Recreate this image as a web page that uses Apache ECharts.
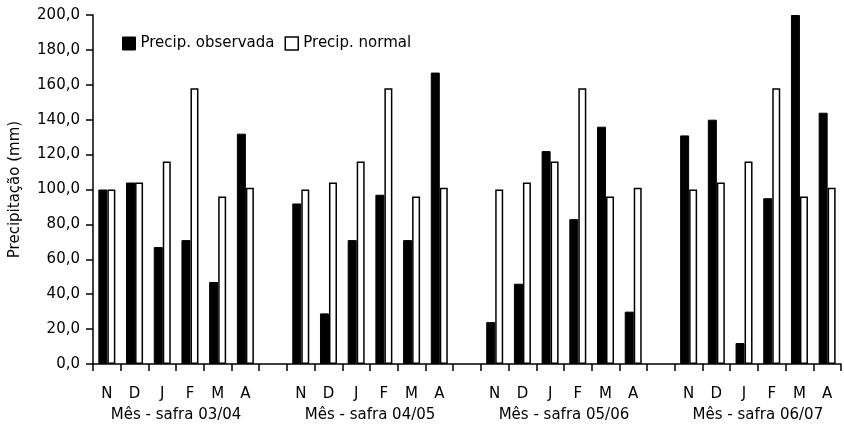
<!DOCTYPE html>
<html>
<head>
<meta charset="utf-8">
<script src="https://cdn.jsdelivr.net/npm/echarts@6/dist/echarts.min.js"></script>
<style>html,body{margin:0;padding:0;background:#fff;}#c{width:844px;height:425px;}</style>
</head>
<body>
<div id="c"></div>
<script>
const months = ['N','D','J','F','M','A'];
const groups = ['Mês - safra 03/04','Mês - safra 04/05','Mês - safra 05/06','Mês - safra 06/07'];
const observada0304 = [100, 104, 67, 71, 47, 132];
const observada0405 = [92, 29, 71, 97, 71, 167];
const observada0506 = [24, 46, 122, 83, 136, 30];
const observada0607 = [131, 140, 12, 95, 200, 144];
const normal = [100, 104, 116, 158, 96, 101];
const yTicks = [0, 20, 40, 60, 80, 100, 120, 140, 160, 180, 200];

const obsGroups = [observada0304, observada0405, observada0506, observada0607];
const categories = [];
const obsData = [];
const normData = [];
obsGroups.forEach((g, gi) => {
  if (gi > 0) { categories.push(' ' + gi); obsData.push(null); normData.push(null); }
  months.forEach((m, i) => {
    categories.push(m + '_' + gi);
    obsData.push(g[i]);
    normData.push(normal[i]);
  });
});
// group label centres on a 0..N value axis
const groupCenters = {};
groups.forEach((g, gi) => { groupCenters[gi * 7 + 3] = g; });

const FONT = 'DejaVu Sans';
const chart = echarts.init(document.getElementById('c'), null, {renderer: 'canvas'});
chart.setOption({
  animation: false,
  backgroundColor: '#fff',
  textStyle: {fontFamily: FONT, color: '#000'},
  grid: {left: 92, right: 1, top: 15, bottom: 61, containLabel: false},
  legend: {
    left: 117, top: 31, itemWidth: 13, itemHeight: 13, itemGap: 10,
    textStyle: {fontFamily: FONT, fontSize: 15, color: '#000'},
    data: [
      {name: 'Precip. observada', icon: 'rect', itemStyle: {color: '#000', borderColor: '#000', borderWidth: 1}},
      {name: 'Precip. normal', icon: 'rect', itemStyle: {color: '#fff', borderColor: '#000', borderWidth: 1.5}}
    ]
  },
  xAxis: [
    {
      type: 'category', data: categories, boundaryGap: true,
      axisLine: {lineStyle: {color: '#000', width: 1.5}},
      axisTick: {show: true, interval: 0, length: 7, alignWithLabel: false, lineStyle: {color: '#000', width: 1.5}},
      axisLabel: {interval: 0, margin: 23, fontSize: 15, color: '#000', fontFamily: FONT,
        formatter: v => v.trim().match(/^\d+$/) ? '' : v.split('_')[0]}
    },
    {
      type: 'value', min: 0, max: categories.length, interval: 1, position: 'bottom',
      axisLine: {show: false}, axisTick: {show: false}, splitLine: {show: false},
      axisLabel: {margin: 44, fontSize: 15, color: '#000', fontFamily: FONT, showMinLabel: true, showMaxLabel: true,
        formatter: v => groupCenters[v] || ''}
    }
  ],
  yAxis: {
    type: 'value', min: 0, max: 200, interval: 20,
    name: 'Precipitação (mm)', nameLocation: 'middle', nameGap: 70,
    nameTextStyle: {fontSize: 15, color: '#000', fontFamily: FONT},
    axisLine: {show: true, lineStyle: {color: '#000', width: 1.5}},
    axisTick: {show: true, length: 7, lineStyle: {color: '#000', width: 1.5}},
    splitLine: {show: false},
    axisLabel: {margin: 13, fontSize: 15, color: '#000', fontFamily: FONT,
      customValues: yTicks,
      formatter: v => v.toFixed(1).replace('.', ',')}
  },
  series: [
    {name: 'Precip. observada', type: 'bar', xAxisIndex: 0, data: obsData, barWidth: 9, barGap: '0%',
      itemStyle: {color: '#000', borderColor: '#000', borderWidth: 1}},
    {name: 'Precip. normal', type: 'bar', xAxisIndex: 0, data: normData, barWidth: 8, barGap: '0%',
      itemStyle: {color: '#fff', borderColor: '#000', borderWidth: 1.5}}
  ]
});
</script>
</body>
</html>
